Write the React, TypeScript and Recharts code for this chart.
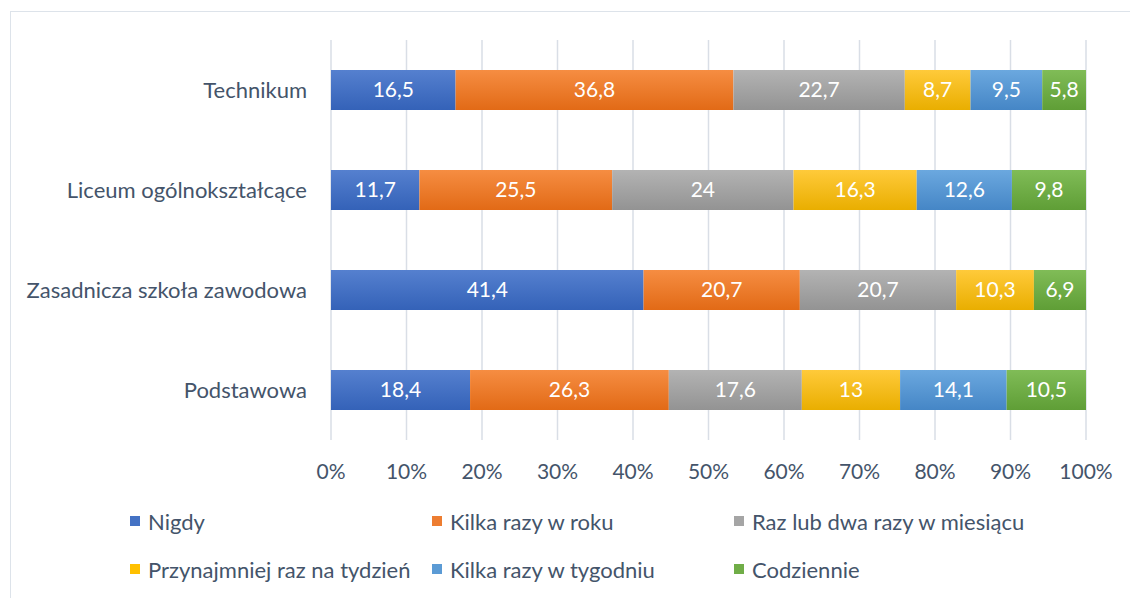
import { BarChart, Bar, XAxis, YAxis, CartesianGrid, Legend, LabelList } from "recharts";

const categories = ["Technikum", "Liceum ogólnokształcące", "Zasadnicza szkoła zawodowa", "Podstawowa"];
const nigdy = [16.5, 11.7, 41.4, 18.4];
const kilkaRok = [36.8, 25.5, 20.7, 26.3];
const razMiesiac = [22.7, 24, 20.7, 17.6];
const razTydzien = [8.7, 16.3, 10.3, 13];
const kilkaTydzien = [9.5, 12.6, 0, 14.1];
const codziennie = [5.8, 9.8, 6.9, 10.5];
const ticks = [0, 0.1, 0.2, 0.3, 0.4, 0.5, 0.6, 0.7, 0.8, 0.9, 1];

const series = [
  { key: "nigdy", name: "Nigdy", values: nigdy, top: "#5580cf", bottom: "#3462b8", swatch: "#4472c4" },
  { key: "kilkaRok", name: "Kilka razy w roku", values: kilkaRok, top: "#f68d42", bottom: "#e26a16", swatch: "#ed7d31" },
  { key: "razMiesiac", name: "Raz lub dwa razy w miesiącu", values: razMiesiac, top: "#b3b3b3", bottom: "#939393", swatch: "#a5a5a5" },
  { key: "razTydzien", name: "Przynajmniej raz na tydzień", values: razTydzien, top: "#ffca3a", bottom: "#e9ae00", swatch: "#ffc000" },
  { key: "kilkaTydzien", name: "Kilka razy w tygodniu", values: kilkaTydzien, top: "#6ba8df", bottom: "#4586c6", swatch: "#5b9bd5" },
  { key: "codziennie", name: "Codziennie", values: codziennie, top: "#80bc57", bottom: "#5f9e36", swatch: "#70ad47" },
];

const data = categories.map((c, i) => {
  const row: Record<string, string | number> = { name: c };
  series.forEach((s) => (row[s.key] = s.values[i]));
  return row;
});

const font = "Lato, 'Open Sans', sans-serif";
const textColor = "#44546a";

const fmt = (v: any) => (v ? String(v).replace(".", ",") : "");

// legenda w 3 kolumnach, kolejność serii jak w danych
function LegendBox({ payload }: any) {
  const items = series
    .map((s) => ({ s, p: (payload || []).find((x: any) => x.dataKey === s.key) }))
    .filter((x) => x.p);
  return (
    <div style={{ display: "flex", flexWrap: "wrap", paddingLeft: 130, width: 1000, fontFamily: font, fontSize: 22, color: textColor }}>
      {items.map(({ s, p }) => (
        <div key={s.key} style={{ width: 302, height: 48, display: "flex", alignItems: "center", gap: 8, whiteSpace: "nowrap" }}>
          <span style={{ width: 10, height: 10, background: s.swatch, display: "inline-block" }} />
          <span>{p.value}</span>
        </div>
      ))}
    </div>
  );
}

export default function App() {
  return (
    <div style={{ position: "absolute", left: 0, top: 0, width: 1130, height: 598, background: "#fff", overflow: "hidden" }}>
      <div style={{ position: "absolute", left: 10, top: 11, width: 1200, height: 700, borderLeft: "1px solid #dde3ea", borderTop: "1px solid #dde3ea" }} />
      <div style={{ position: "absolute", left: 0, top: 0 }}>
        <BarChart
          width={1130}
          height={598}
          data={data}
          layout="vertical"
          stackOffset="expand"
          barSize={40}
          margin={{ top: 40, right: 44, left: 0, bottom: 32 }}
        >
          <defs>
            {series.map((s) => (
              <linearGradient key={s.key} id={`g-${s.key}`} x1="0" y1="0" x2="0" y2="1">
                <stop offset="0%" stopColor={s.top} />
                <stop offset="100%" stopColor={s.bottom} />
              </linearGradient>
            ))}
          </defs>
          <CartesianGrid horizontal={false} stroke="#d9dee6" strokeWidth={1.5} />
          <XAxis
            type="number"
            domain={[0, 1]}
            ticks={ticks}
            height={30}
            tickFormatter={(v) => `${Math.round(v * 100)}%`}
            axisLine={false}
            tickLine={false}
            tickMargin={18}
            tick={{ fill: textColor, fontSize: 21, fontFamily: font }}
            interval={0}
          />
          <YAxis
            type="category"
            dataKey="name"
            width={331}
            axisLine={false}
            tickLine={false}
            tickMargin={18}
            tick={{ fill: textColor, fontSize: 22, fontFamily: font }}
          />
          <Legend
            verticalAlign="bottom"
            content={<LegendBox />}
            wrapperStyle={{ left: 0, top: 497, width: 1130 }}
          />
          {series.map((s) => (
            <Bar key={s.key} dataKey={s.key} name={s.name} stackId="a" fill={`url(#g-${s.key})`} isAnimationActive={false}>
              <LabelList
                dataKey={s.key}
                position="center"
                formatter={fmt}
                fill="#ffffff"
                style={{ fontSize: 21, fontFamily: font }}
              />
            </Bar>
          ))}
        </BarChart>
      </div>
    </div>
  );
}
